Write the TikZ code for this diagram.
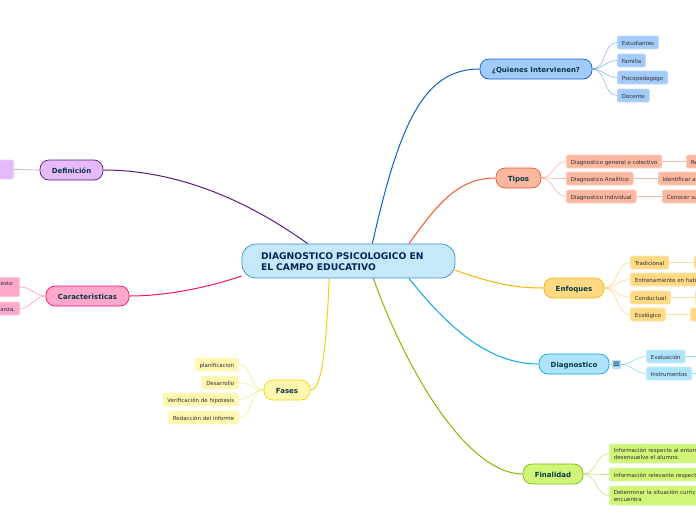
\documentclass[tikz,border=0pt]{standalone}
\usepackage{fontspec}
\setmainfont{DejaVu Sans}
\usepackage{xcolor}
\usetikzlibrary{backgrounds}
\definecolor{rootfill}{HTML}{C5E9FB}
\definecolor{rootline}{HTML}{3A8FC8}
\definecolor{roottext}{HTML}{0A2255}
\definecolor{branchtext}{HTML}{083844}
\definecolor{leaftext}{HTML}{2E2E2E}
\definecolor{quienfill}{HTML}{A3CBFA}
\definecolor{quienline}{HTML}{0A5FCF}
\definecolor{tipofill}{HTML}{FBB8A0}
\definecolor{tipoline}{HTML}{F5562A}
\definecolor{enfofill}{HTML}{FFD983}
\definecolor{enfoline}{HTML}{FFB000}
\definecolor{diagfill}{HTML}{AEE3FC}
\definecolor{diagline}{HTML}{0AA5EF}
\definecolor{finfill}{HTML}{CFF678}
\definecolor{finline}{HTML}{84B800}
\definecolor{fasefill}{HTML}{FFF7B0}
\definecolor{faseline}{HTML}{ECD318}
\definecolor{carfill}{HTML}{FFA8CC}
\definecolor{carline}{HTML}{F5106E}
\definecolor{deffill}{HTML}{E6B9FB}
\definecolor{defline}{HTML}{5A1A78}
\begin{document}
\begin{tikzpicture}[
        x=1pt, y=-1pt,
        rootbox/.style={draw=rootline, fill=rootfill, rectangle, rounded corners=14pt, line width=0.7pt, minimum width=213pt, minimum height=34pt, inner xsep=19pt, inner ysep=0pt, text width=175pt, text height=0pt, text depth=2.4pt, align=left, text=roottext, font=\fontsize{9.2}{11}\selectfont\bfseries},
        branchbox/.style 2 args={draw=#2, fill=#1, rectangle, rounded corners=9pt, line width=0.7pt, minimum height=20pt, inner sep=0pt, text height=6.8pt, text depth=0pt, text=branchtext, font=\fontsize{7}{8}\selectfont\bfseries},
        leafbox/.style 2 args={draw=#1!70!white, fill=#1, rectangle, rounded corners=2pt, line width=0.6pt, minimum height=13pt, inner xsep=4.5pt, inner ysep=0pt, text height=5pt, text depth=0pt, text=leaftext, align=left, font=\fontsize{5.5}{7}\selectfont},
        twolines/.style={minimum height=19pt, text height=, text depth=},
        mainline/.style={line width=1pt},
        leafline/.style={line width=0.7pt, opacity=0.4}
    ]
    \useasboundingbox (0,0) rectangle (696,520);
    \clip (0,0) rectangle (696,520);

    % ============ ROOT ============
    \node[rootbox] (root) at (348.5,261) {DIAGNOSTICO PSICOLOGICO EN\\EL CAMPO EDUCATIVO};

    % ============ RIGHT BRANCHES ============
    \node[branchbox={quienfill}{quienline}, minimum width=112pt] (quienes) at (536,69) {¿Quienes Intervienen?};
    \node[leafbox={quienfill}{quienline}, anchor=west] (estudiantes) at (617,42.5) {Estudiantes};
    \node[leafbox={quienfill}{quienline}, anchor=west] (familia) at (617,60.5) {Familia};
    \node[leafbox={quienfill}{quienline}, anchor=west] (psico) at (617,77.5) {Psicopedagogo};
    \node[leafbox={quienfill}{quienline}, anchor=west] (docente) at (617,95.5) {Docente};

    \node[branchbox={tipofill}{tipoline}, minimum width=45pt] (tipos) at (518.5,178) {Tipos};
    \node[leafbox={tipofill}{tipoline}, anchor=west] (general) at (566,161.5) {Diagnostico general o colectivo};
    \node[leafbox={tipofill}{tipoline}, anchor=west] (analitico) at (566,178.5) {Diagnostico Analítico};
    \node[leafbox={tipofill}{tipoline}, anchor=west] (individual) at (566,196.5) {Diagnostico Individual};
    \node[leafbox={tipofill}{tipoline}, anchor=west] (generalsub) at (686,161.5) {Re};
    \node[leafbox={tipofill}{tipoline}, anchor=west] (analiticosub) at (658,178.5) {Identificar a};
    \node[leafbox={tipofill}{tipoline}, anchor=west] (individualsub) at (662,196.5) {Conocer su};

    \node[branchbox={enfofill}{enfoline}, minimum width=60pt] (enfoques) at (574,288) {Enfoques};
    \node[leafbox={enfofill}{enfoline}, anchor=west] (tradicional) at (630,262.5) {Tradicional};
    \node[leafbox={enfofill}{enfoline}, anchor=west] (entrena) at (630,279.5) {Entrenamiento en hab};
    \node[leafbox={enfofill}{enfoline}, anchor=west] (conductual) at (630,297.5) {Conductual};
    \node[leafbox={enfofill}{enfoline}, anchor=west] (ecologico) at (630,314.5) {Ecológico};
    \node[leafbox={enfofill}{enfoline}, anchor=west, minimum width=20pt] (tradsub) at (694,262.5) {};
    \node[leafbox={enfofill}{enfoline}, anchor=west, minimum width=20pt] (condsub) at (695,297.5) {};
    \node[leafbox={enfofill}{enfoline}, anchor=west, minimum width=20pt] (ecosub) at (690,314.5) {};

    \node[branchbox={diagfill}{diagline}, minimum width=70pt] (diagnostico) at (574,364) {Diagnostico};
    \node[draw=none, fill=diagfill, rectangle, rounded corners=1pt, minimum width=9pt, minimum height=9pt, inner sep=0pt, text=branchtext, font=\fontsize{10}{10}\selectfont] (plegado) at (616.5,364.5) {≡};
    \node[leafbox={diagfill}{diagline}, anchor=west] (evaluacion) at (646,356.5) {Evaluación};
    \node[leafbox={diagfill}{diagline}, anchor=west] (instrumentos) at (646,373.5) {Instrumentos};
    \coordinate (evalsub) at (700,356.5);
    \coordinate (instsub) at (700,373.5);

    \node[branchbox={finfill}{finline}, minimum width=60pt] (finalidad) at (553,474) {Finalidad};
    \node[leafbox={finfill}{finline}, anchor=west, twolines] (entorno) at (609,453.5) {Información respecto al enton\\desenvuelve el alumno.};
    \node[leafbox={finfill}{finline}, anchor=west] (relevante) at (609,474.5) {Información relevante respect};
    \node[leafbox={finfill}{finline}, anchor=west, twolines] (curricular) at (609,495.5) {Determinar la situación curric\\encuentra};

    % ============ LEFT BRANCHES ============
    \node[branchbox={fasefill}{faseline}, minimum width=46pt] (fases) at (287,390) {Fases};
    \node[leafbox={fasefill}{faseline}, anchor=east] (planifica) at (239,364.5) {planificacion};
    \node[leafbox={fasefill}{faseline}, anchor=east] (desarrollo) at (239,382.5) {Desarrollo};
    \node[leafbox={fasefill}{faseline}, anchor=east] (hipotesis) at (239,399.5) {Verificación de hipotesis};
    \node[leafbox={fasefill}{faseline}, anchor=east] (informe) at (239,417.5) {Redacción del informe};

    \node[branchbox={carfill}{carline}, minimum width=83pt] (caracter) at (87.5,296) {Caracteristicas};
    \node[leafbox={carfill}{carline}, anchor=east, twolines, inner xsep=7pt] (contexto) at (20,287) {cesto\\\phantom{x}};
    \node[leafbox={carfill}{carline}, anchor=east] (ensenanza) at (20,308.5) {anza.};

    \node[branchbox={deffill}{defline}, minimum width=63pt] (definicion) at (71.5,170) {Definición};
    \node[leafbox={deffill}{defline}, anchor=east, minimum width=30pt, minimum height=19pt] (concepto) at (14,169.5) {};

    % ============ CONNECTORS ============
    \begin{scope}[on background layer]
        \draw[mainline, quienline] (root.36) .. controls (400,120) and (425,69) .. (quienes.west);
        \draw[mainline, tipoline] (root.16) .. controls (440,200) and (460,178) .. (tipos.west);
        \draw[mainline, enfoline] (root.-5) .. controls (490,282) and (510,288) .. (enfoques.west);
        \draw[mainline, diagline] (root.-16) .. controls (450,330) and (490,364) .. (diagnostico.west);
        \draw[mainline, finline] (root.-35) .. controls (410,380) and (470,474) .. (finalidad.west);
        \draw[mainline, faseline] (root.222) .. controls (326,350) and (322,390) .. (fases.east);
        \draw[mainline, carline] (root.188) .. controls (200,290) and (160,296) .. (caracter.east);
        \draw[mainline, defline] (root.157) .. controls (240,195) and (170,170) .. (definicion.east);

        % leaves
        \draw[leafline, quienline] (quienes.east) to[out=0, in=180] (estudiantes.west);
        \draw[leafline, quienline] (quienes.east) to[out=0, in=180] (familia.west);
        \draw[leafline, quienline] (quienes.east) to[out=0, in=180] (psico.west);
        \draw[leafline, quienline] (quienes.east) to[out=0, in=180] (docente.west);

        \draw[leafline, tipoline] (tipos.east) to[out=0, in=180] (general.west);
        \draw[leafline, tipoline] (tipos.east) to[out=0, in=180] (analitico.west);
        \draw[leafline, tipoline] (tipos.east) to[out=0, in=180] (individual.west);
        \draw[leafline, tipoline] (general.east) -- (generalsub.west);
        \draw[leafline, tipoline] (analitico.east) -- (analiticosub.west);
        \draw[leafline, tipoline] (individual.east) -- (individualsub.west);

        \draw[leafline, enfoline] (enfoques.east) to[out=0, in=180] (tradicional.west);
        \draw[leafline, enfoline] (enfoques.east) to[out=0, in=180] (entrena.west);
        \draw[leafline, enfoline] (enfoques.east) to[out=0, in=180] (conductual.west);
        \draw[leafline, enfoline] (enfoques.east) to[out=0, in=180] (ecologico.west);
        \draw[leafline, enfoline] (tradicional.east) -- (tradsub.west);
        \draw[leafline, enfoline] (conductual.east) -- (condsub.west);
        \draw[leafline, enfoline] (ecologico.east) -- (ecosub.west);

        \draw[leafline, diagline] (diagnostico.east) -- (plegado.west);
        \draw[leafline, diagline] (plegado.east) to[out=0, in=180] (evaluacion.west);
        \draw[leafline, diagline] (plegado.east) to[out=0, in=180] (instrumentos.west);
        \draw[leafline, diagline] (evaluacion.east) -- (evalsub);
        \draw[leafline, diagline] (instrumentos.east) -- (instsub);

        \draw[leafline, finline] (finalidad.east) to[out=0, in=180] (entorno.west);
        \draw[leafline, finline] (finalidad.east) to[out=0, in=180] (relevante.west);
        \draw[leafline, finline] (finalidad.east) to[out=0, in=180] (curricular.west);

        \draw[leafline, faseline] (fases.west) to[out=180, in=0] (planifica.east);
        \draw[leafline, faseline] (fases.west) to[out=180, in=0] (desarrollo.east);
        \draw[leafline, faseline] (fases.west) to[out=180, in=0] (hipotesis.east);
        \draw[leafline, faseline] (fases.west) to[out=180, in=0] (informe.east);

        \draw[leafline, carline] (caracter.west) to[out=180, in=0] (contexto.east);
        \draw[leafline, carline] (caracter.west) to[out=180, in=0] (ensenanza.east);

        \draw[leafline, defline] (definicion.west) -- (concepto.east);
    \end{scope}
    \end{tikzpicture}
\end{document}
